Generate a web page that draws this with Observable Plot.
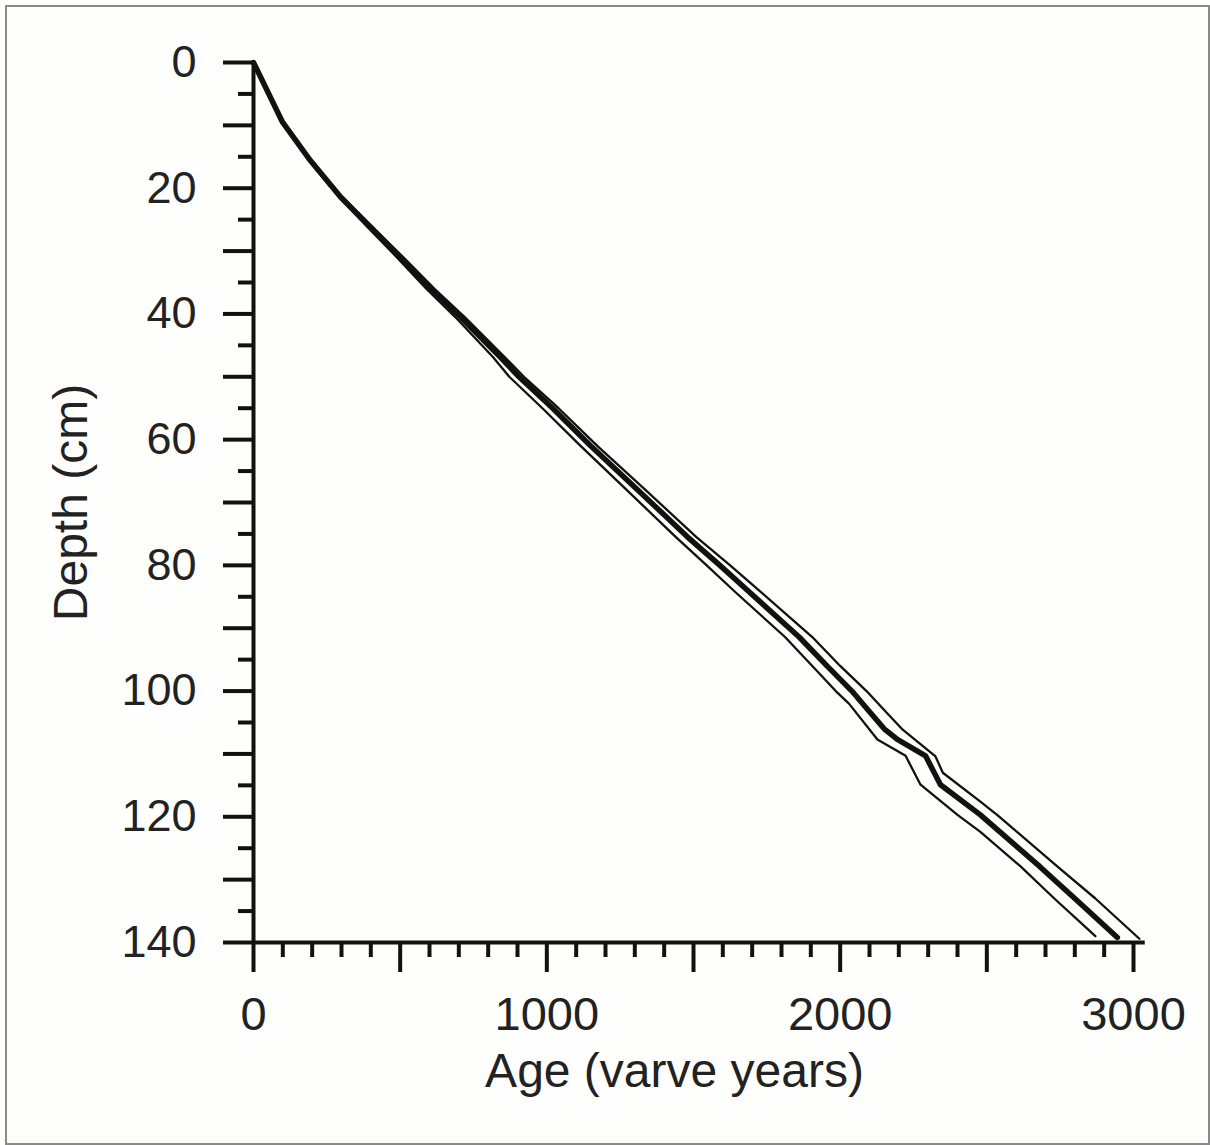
<!DOCTYPE html>
<html>
<head>
<meta charset="utf-8">
<script src="https://cdn.jsdelivr.net/npm/d3@7"></script>
<script src="https://cdn.jsdelivr.net/npm/@observablehq/plot@0.6"></script>
<style>
  html, body { margin: 0; padding: 0; background: #fff; }
  #wrap { position: relative; width: 1210px; height: 1145px; overflow: hidden; background: #fefefc; }
  #border { position: absolute; left: 5px; top: 5px; width: 1201px; height: 1136px; border: 2px solid #8a8a8a; box-sizing: content-box; pointer-events: none; }
  #chart { position: absolute; left: 0; top: 0; }
</style>
</head>
<body>
<div id="wrap"><div id="chart"></div><div id="border"></div></div>
<script>
// ---- data ----
const xTitle = "Age (varve years)";
const yTitle = "Depth (cm)";

const xMajorTicks = [0, 500, 1000, 1500, 2000, 2500, 3000];
const xMinorTicks = [100, 200, 300, 400, 600, 700, 800, 900, 1100, 1200, 1300, 1400, 1600, 1700, 1800, 1900, 2100, 2200, 2300, 2400, 2600, 2700, 2800, 2900];
const xTickLabels = [0, 1000, 2000, 3000];

const yMajorTicks = [0, 10, 20, 30, 40, 50, 60, 70, 80, 90, 100, 110, 120, 130, 140];
const yMinorTicks = [5, 15, 25, 35, 45, 55, 65, 75, 85, 95, 105, 115, 125, 135];
const yTickLabels = [0, 20, 40, 60, 80, 100, 120, 140];

// central age-depth model
const bestDepth = [0, 9.5, 15.6, 21.4, 26.2, 31, 36, 40.5, 46.9, 50, 55, 61, 68, 75.5, 80, 84.4, 91.4, 96, 100, 103, 106, 107.7, 110.3, 114.9, 119.7, 127.9, 133, 139.2];
const bestAge   = [0, 99, 194, 297, 399, 501, 605, 706, 842, 905, 1020, 1150, 1310, 1480, 1590, 1694, 1860, 1955, 2040, 2095, 2150, 2195, 2291, 2342, 2478, 2680, 2800, 2945];

// older error bound (right thin line)
const oldDepth = [0, 9.5, 15.6, 21.4, 26.2, 31, 36, 40.5, 46.9, 50, 55, 61, 68, 75.5, 80, 84.4, 91.4, 96, 100, 103, 106, 110.4, 113, 117.6, 119.7, 127.9, 133, 139.4];
const oldAge   = [0, 101, 197, 301, 406, 511, 617, 720, 857, 922, 1040, 1172, 1336, 1510, 1625, 1734, 1905, 2000, 2090, 2150, 2210, 2325, 2350, 2478, 2535, 2740, 2870, 3020];

// younger error bound (left thin line)
const youngDepth = [0, 9.5, 15.6, 21.4, 26.2, 31, 36, 40.5, 46.9, 50, 55, 61, 68, 75.5, 80, 84.4, 91.4, 96, 100, 102, 107.7, 110.3, 114.9, 119.7, 122.4, 127.9, 133, 139];
const youngAge   = [0, 96, 189, 291, 389, 489, 589, 688, 817, 872, 985, 1115, 1272, 1440, 1545, 1646, 1812, 1905, 1985, 2030, 2127, 2223, 2274, 2400, 2478, 2615, 2730, 2870];

const toRows = (ages, depths) => ages.map((a, i) => ({age: a, depth: depths[i]}));
const best = toRows(bestAge, bestDepth);
const older = toRows(oldAge, oldDepth);
const younger = toRows(youngAge, youngDepth);

const font = "Liberation Sans, Arial, Helvetica, sans-serif";

const chart = Plot.plot({
  width: 1210,
  height: 1145,
  marginLeft: 253,
  marginRight: 77,
  marginTop: 62,
  marginBottom: 203,
  style: {fontFamily: font, background: "transparent", color: "#111"},
  x: {domain: [0, 3000], label: null},
  y: {domain: [0, 140], reverse: true, label: null},
  marks: [
    // minor ticks
    Plot.axisX({ticks: xMinorTicks, tickSize: 15, tickFormat: () => "", strokeWidth: 4, stroke: "#111", label: null}),
    Plot.axisY({ticks: yMinorTicks, tickSize: 15, tickFormat: () => "", strokeWidth: 4, stroke: "#111", label: null}),
    // major ticks + labels
    Plot.axisX({ticks: xMajorTicks, tickSize: 30, tickPadding: 24, strokeWidth: 4, stroke: "#111",
      tickFormat: d => xTickLabels.includes(d) ? String(d) : "", fontSize: 47, fill: "#222", label: null}),
    Plot.axisY({ticks: yMajorTicks, tickSize: 30, tickPadding: 27, strokeWidth: 4, stroke: "#111",
      tickFormat: d => yTickLabels.includes(d) ? String(d) : "", fontSize: 45, fill: "#222", label: null}),
    // axis lines
    Plot.ruleX([0], {y1: 0, y2: 140, strokeWidth: 4, stroke: "#111"}),
    Plot.ruleY([140], {x1: 0, x2: 3040, strokeWidth: 4, stroke: "#111"}),
    // error bounds
    Plot.line(younger, {x: "age", y: "depth", stroke: "#111", strokeWidth: 2.3}),
    Plot.line(older, {x: "age", y: "depth", stroke: "#111", strokeWidth: 2.3}),
    // central line
    Plot.line(best, {x: "age", y: "depth", stroke: "#111", strokeWidth: 5.5}),
    // axis titles
    Plot.text([yTitle], {frameAnchor: "left", dx: -182, rotate: -90, textAnchor: "middle", lineAnchor: "middle", fontSize: 48, fill: "#222", fontFamily: font}),
    Plot.text([xTitle], {frameAnchor: "bottom", dx: -19, dy: 129, textAnchor: "middle", lineAnchor: "middle", fontSize: 48, fill: "#222", fontFamily: font})
  ]
});
document.getElementById("chart").appendChild(chart);
</script>
</body>
</html>
